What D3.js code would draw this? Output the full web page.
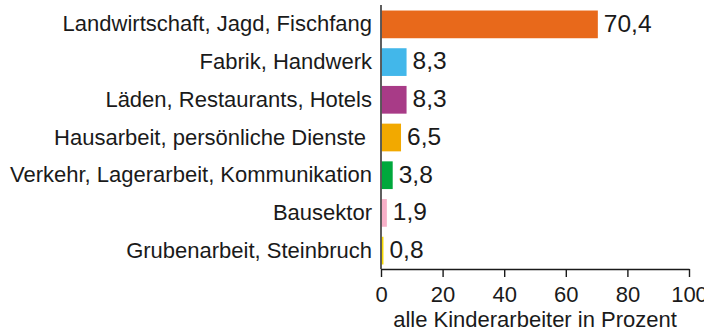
<!DOCTYPE html>
<html>
<head>
<meta charset="utf-8">
<script src="https://cdn.jsdelivr.net/npm/d3@7"></script>
<style>
  html, body { margin: 0; padding: 0; background: #fff; }
  svg { display: block; font-family: "Liberation Sans", Arial, sans-serif; }
  text { white-space: pre; fill: #1a1a1a; }
</style>
</head>
<body>
<svg id="chart" width="704" height="333"></svg>
<script>
// Kinderarbeit nach Wirtschaftszweig (Anteil in Prozent)
const categories = [
  "Landwirtschaft, Jagd, Fischfang",
  "Fabrik, Handwerk",
  "Läden, Restaurants, Hotels",
  "Hausarbeit, persönliche Dienste ",
  "Verkehr, Lagerarbeit, Kommunikation",
  "Bausektor",
  "Grubenarbeit, Steinbruch"
];
const values = [70.4, 8.3, 8.3, 6.5, 3.8, 1.9, 0.8];
const valueLabels = ["70,4", "8,3", "8,3", "6,5", "3,8", "1,9", "0,8"];
const colors = ["#E8691B", "#42B7EA", "#A83B87", "#F2A900", "#00A83C", "#F7B0C8", "#F5D800"];
const tickValues = [0, 20, 40, 60, 80, 100];
const axisTitle = "alle Kinderarbeiter in Prozent";

const svg = d3.select("#chart");
const plotLeft = 381, plotRight = 689, plotTop = 5, plotBottom = 269;

const x = d3.scaleLinear().domain([0, 100]).range([plotLeft, plotRight]);
const y = d3.scaleBand().domain(categories).range([plotTop + 1, plotBottom]).paddingInner(0.265).paddingOuter(0.12);

const rows = categories.map((c, i) => ({ c, v: values[i], label: valueLabels[i], color: colors[i] }));

// bars
svg.append("g").selectAll("rect").data(rows).join("rect")
  .attr("x", x(0) + 0.8)
  .attr("y", d => y(d.c))
  .attr("width", d => Math.max(0, x(d.v) - x(0) - 0.8))
  .attr("height", y.bandwidth())
  .attr("fill", d => d.color);

// value labels
svg.append("g").selectAll("text").data(rows).join("text")
  .attr("x", d => x(d.v) + 6)
  .attr("y", d => y(d.c) + y.bandwidth() / 2)
  .attr("dy", "0.3em")
  .attr("font-size", 24.5)
  .text(d => d.label);

// category axis
const yAxis = svg.append("g").attr("transform", `translate(${plotLeft},0)`)
  .call(d3.axisLeft(y).tickSize(0).tickPadding(9));
yAxis.select(".domain").attr("stroke", "#1a1a1a").attr("stroke-width", 1.4)
  .attr("d", `M0,${plotTop}V${plotBottom}`);
yAxis.selectAll(".tick text").attr("font-size", 22).attr("font-family", null)
  .attr("dy", "0.32em").attr("fill", "#1a1a1a");

// value axis
const xAxis = svg.append("g").attr("transform", `translate(0,${plotBottom})`)
  .call(d3.axisBottom(x).tickValues(tickValues).tickSize(8).tickPadding(9).tickSizeOuter(0));
xAxis.select(".domain").attr("stroke", "#1a1a1a").attr("stroke-width", 1.4);
xAxis.selectAll(".tick line").attr("stroke", "#1a1a1a").attr("stroke-width", 1.4);
xAxis.selectAll(".tick text").attr("font-size", 22).attr("font-family", null).attr("fill", "#1a1a1a");

svg.append("text")
  .attr("x", (plotLeft + plotRight) / 2)
  .attr("y", 327)
  .attr("text-anchor", "middle")
  .attr("font-size", 22)
  .text(axisTitle);
</script>
</body>
</html>
